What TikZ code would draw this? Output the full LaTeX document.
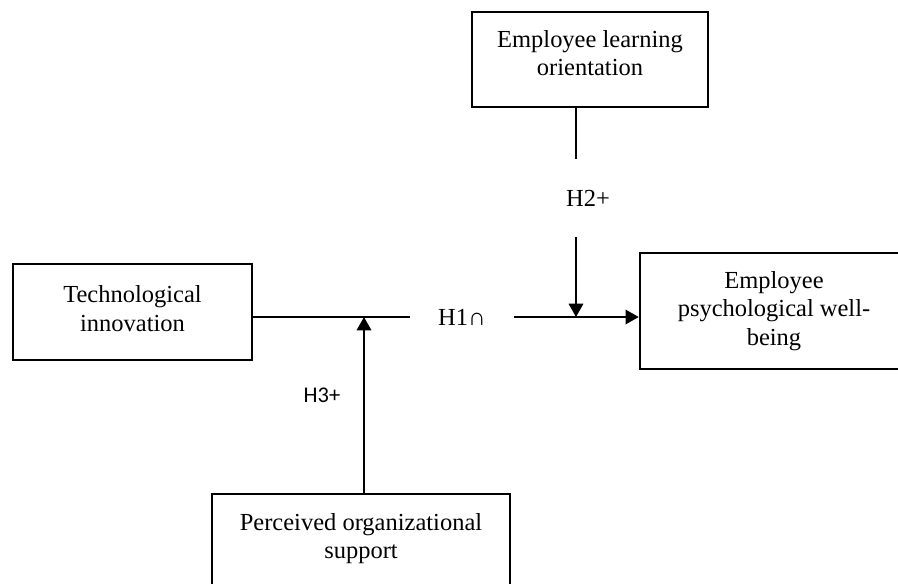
\documentclass[tikz,border=0pt]{standalone}
\usepackage{fontspec}
\setmainfont{Liberation Serif}
\newfontfamily\hsans{Carlito}
\usetikzlibrary{arrows.meta}
\definecolor{ink}{HTML}{000000}
\tikzset{
  box/.style={draw=ink, line width=1.2pt, align=center, font=\fontsize{12pt}{13.8pt}\selectfont, inner sep=0pt},
  link/.style={draw=ink, line width=1.2pt},
  arrow/.style={link, -{Triangle[length=6.5pt, width=7pt]}},
  hyp/.style={text=ink, font=\fontsize{12pt}{13.8pt}\selectfont, inner sep=0pt},
  hypsans/.style={text=ink, font=\hsans\fontsize{11pt}{13pt}\selectfont}
}
\begin{document}
\begin{tikzpicture}[x=0.49pt, y=-0.49pt]
  \useasboundingbox (0,0) rectangle (898,583);
  \clip (0,0) rectangle (898,583);

  % boxes
  \node[box, minimum width=239*0.49pt, minimum height=96*0.49pt, text depth=3.5pt] (ti) at (132.5,312) {Technological\\innovation};
  \node[box, minimum width=236*0.49pt, minimum height=95*0.49pt, text depth=6pt] (elo) at (590,59.5) {Employee learning\\orientation};
  \node[box, minimum width=268*0.49pt, minimum height=116*0.49pt] (ewb) at (774,311) {Employee\\psychological well-\\being};
  \node[box, anchor=north, minimum width=298*0.49pt, minimum height=130*0.49pt, text depth=22.5pt] (pos) at (361,493) {Perceived organizational\\support};

  % hypothesis labels
  \node[hyp, inner xsep=13.5pt] (h1) at (462,317) {H1∩};
  \node[hyp, inner ysep=15pt] (h2) at (588,198) {H2+};
  \node[hypsans] (h3) at (322,395) {H3+};

  \coordinate (m2) at (576,317);
  \coordinate (m3) at (364,317);

  % main path
  \draw[link] (h1.west -| ti.east) -- (h1.west);
  \draw[arrow] (h1.east) -- (h1.east -| ewb.west);

  % moderators
  \draw[link] (m2 |- elo.south) -- (m2 |- h2.north);
  \draw[arrow] (m2 |- h2.south) -- (m2);
  \draw[arrow] (m3 |- pos.north) -- (m3);
\end{tikzpicture}
\end{document}
